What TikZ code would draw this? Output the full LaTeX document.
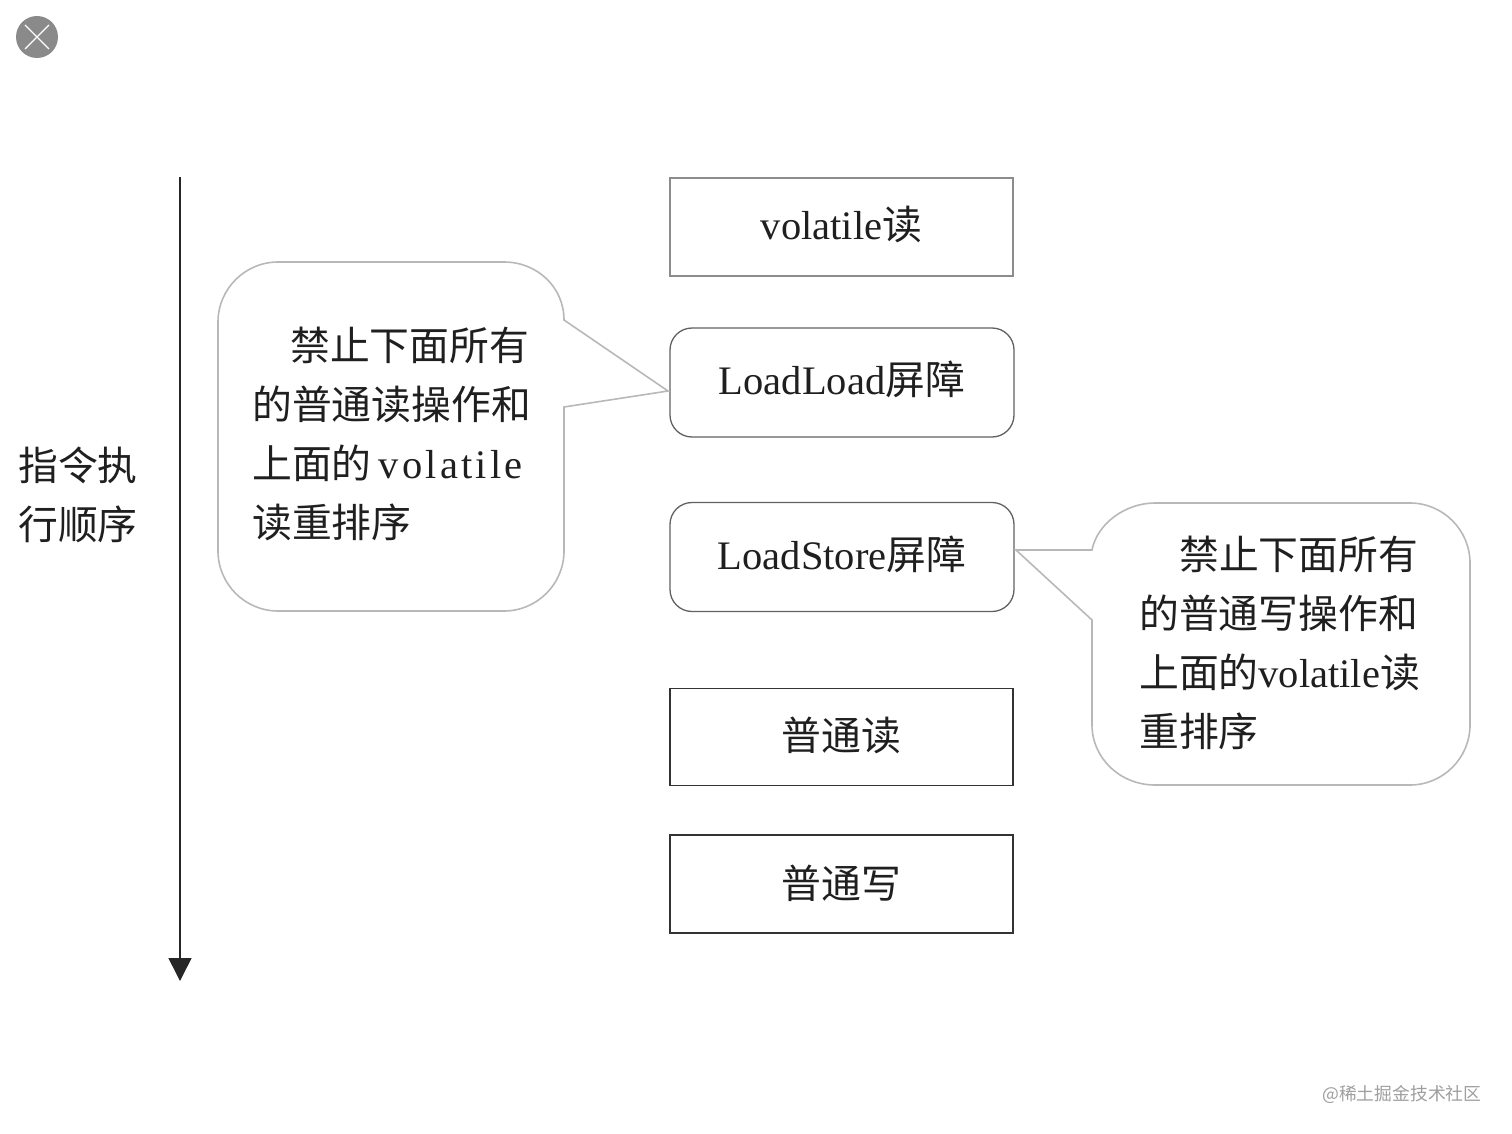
\documentclass[tikz,border=0pt]{standalone}
\usepackage{fontspec}
\setmainfont{Liberation Serif}
\newfontfamily\cjk{Noto Sans CJK SC}
\usetikzlibrary{arrows.meta}
\newcommand{\zh}[1]{{\cjk\fontsize{39.8}{47}\selectfont #1}}
\tikzset{
  x=1pt,y=-1pt,
  txt/.style={inner sep=0pt,font=\fontsize{40.5}{48}\selectfont,text=black!88,text height=34pt,text depth=4pt},
  linetxt/.style={txt,anchor=west},
  plainbox/.style={draw=#1,line width=1.3pt,minimum width=343pt,minimum height=98pt,inner sep=0pt,anchor=center,font=\fontsize{40.5}{48}\selectfont,text=black!88,text height=30pt},
  barrier/.style={plainbox=#1,rounded corners=22pt,minimum width=344pt,minimum height=109pt},
  callout/.style={draw=black!28,line width=1.6pt},
  seqarrow/.style={draw=black!85,line width=1.5pt,-{Triangle[length=23pt,width=23pt,fill=black!85]}},
}
\begin{document}
\begin{tikzpicture}
\useasboundingbox (0,0) rectangle (1512,1134);
% close icon
\node[circle,fill=black!46,draw=none,minimum size=42pt,inner sep=0pt] (close) at (37,37) {};
\draw[white,line width=1.3pt] (25,25) -- (49,49) (49,25) -- (25,49);
% order arrow
\coordinate (arrowtop) at (180,177);
\coordinate (arrowend) at (180,981);
\draw[seqarrow] (arrowtop) -- (arrowend);
\node[linetxt] (orderA) at (18,465) {\zh{指令执}};
\node[linetxt] (orderB) at (18,524) {\zh{行顺序}};
% boxes
\node[plainbox=black!45,text depth=4pt] (vread) at (841.5,227) {volatile\zh{读}};
\node[barrier=black!62,text depth=6pt] (loadload) at (842,382.5) {LoadLoad\zh{屏障}};
\node[barrier=black!62,text depth=6pt] (loadstore) at (842,557) {LoadStore\zh{屏障}};
\node[plainbox=black!80,text depth=4pt,minimum height=97pt] (nread) at (841.5,737) {\zh{普通读}};
\node[plainbox=black!80,text depth=2pt] (nwrite) at (841.5,884) {\zh{普通写}};
% callouts
\coordinate (tipL) at (668,391);
\coordinate (tipR) at (1016,550);
\draw[callout] (564,320) -- (tipL) -- (564,407) -- (564,551)
  .. controls (564,584) and (537,611) .. (504,611) -- (278,611)
  .. controls (245,611) and (218,584) .. (218,551) -- (218,322)
  .. controls (218,289) and (245,262) .. (278,262) -- (504,262)
  .. controls (537,262) and (564,287) .. (564,320) -- cycle;
\draw[callout] (1092,620) -- (tipR) -- (1092,550)
  .. controls (1097,524) and (1125,503) .. (1155,503) -- (1410,503)
  .. controls (1443,503) and (1470,530) .. (1470,563) -- (1470,725)
  .. controls (1470,758) and (1443,785) .. (1410,785) -- (1155,785)
  .. controls (1120,785) and (1092,758) .. (1092,725) -- cycle;
% left callout text
\node[linetxt] (lA) at (290,345) {\zh{禁止下面所有}};
\node[linetxt] (lB) at (252,404) {\zh{的普通读操作和}};
\node[linetxt] (lC) at (252,463) {\zh{上面的}\hspace{7pt}\addfontfeature{LetterSpace=8}volatile};
\node[linetxt] (lD) at (252,522) {\zh{读重排序}};
% right callout text
\node[linetxt] (rA) at (1179,554) {\zh{禁止下面所有}};
\node[linetxt] (rB) at (1139,613) {\zh{的普通写操作和}};
\node[linetxt] (rC) at (1139,672) {\zh{上面的}volatile\zh{读}};
\node[linetxt] (rD) at (1139,731) {\zh{重排序}};
% watermark
\node[anchor=west,inner sep=0pt,text=black!38,font=\cjk\fontsize{17.8}{22}\selectfont] (mark) at (1322,1094) {@稀土掘金技术社区};
\end{tikzpicture}
\end{document}
